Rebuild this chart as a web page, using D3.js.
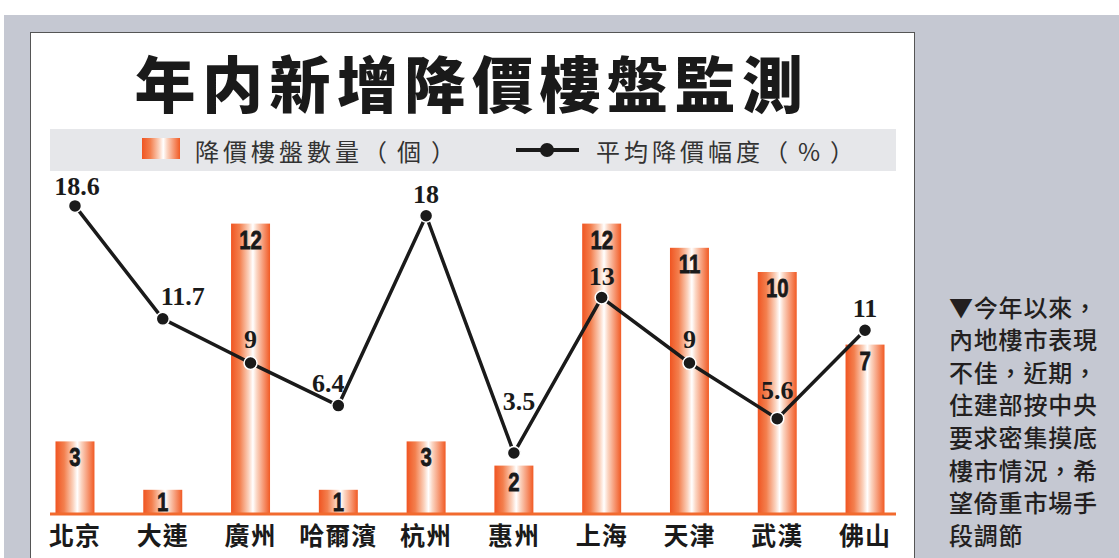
<!DOCTYPE html>
<html>
<head>
<meta charset="utf-8">
<script src="https://cdn.jsdelivr.net/npm/d3@7"></script>
<style>
  body { margin: 0; background: #fff; }
  svg { display: block; }
</style>
</head>
<body>
<div id="chart"></div>
<script>
var svgWidth = 1119;
var svgHeight = 558;

// data
var cities = ["北京", "大連", "廣州", "哈爾濱", "杭州", "惠州", "上海", "天津", "武漢", "佛山"];
var counts = [3, 1, 12, 1, 3, 2, 12, 11, 10, 7];
var cuts = [18.6, 11.7, 9, 6.4, 18, 3.5, 13, 9, 5.6, 11];
var noteLines = ["▼今年以來，", "內地樓市表現", "不佳，近期，", "住建部按中央", "要求密集摸底", "樓市情況，希", "望倚重市場手", "段調節"];

// label nudges for the line values (kept off the line where it crosses)
var cutLabelDx = [2, 20, 0, -10, 0, 5, 0, 0, 0, 0];
var cutLabelDy = [-11, -14, -15, -14, -13, -43, -13, -15, -20, -13];

var cjk = "'Noto Sans CJK TC', 'Noto Sans CJK SC', sans-serif";

var svg = d3.select("#chart")
  .append("svg")
  .attr("width", svgWidth)
  .attr("height", svgHeight);

// background + panel
svg.append("rect")
  .attr("x", 4).attr("y", 15)
  .attr("width", svgWidth - 4).attr("height", svgHeight - 15)
  .attr("fill", "#c5c8d2");

svg.append("rect")
  .attr("x", 30.5).attr("y", 32.5)
  .attr("width", 884).attr("height", 540)
  .attr("fill", "#fff")
  .attr("stroke", "#555")
  .attr("stroke-width", 1);

// bar gradient
var defs = svg.append("defs");
var grad = defs.append("linearGradient")
  .attr("id", "barGrad")
  .attr("x1", "0%").attr("x2", "100%")
  .attr("y1", "0%").attr("y2", "0%");
[["0%", "#f05522"], ["22%", "#f37f4e"], ["45%", "#fbd2bd"], ["56%", "#ffffff"], ["66%", "#fbd5c2"], ["100%", "#f15a24"]]
  .forEach(function(s) {
    grad.append("stop").attr("offset", s[0]).attr("stop-color", s[1]);
  });

// title
svg.append("text")
  .attr("x", 472)
  .attr("y", 81)
  .attr("text-anchor", "middle")
  .attr("dominant-baseline", "central")
  .attr("font-family", cjk)
  .attr("font-weight", 900)
  .attr("font-size", 61)
  .attr("letter-spacing", 6.5)
  .attr("fill", "#1a1a1a")
  .text("年内新增降價樓盤監測");

// legend band
svg.append("rect")
  .attr("x", 50).attr("y", 129)
  .attr("width", 846).attr("height", 42)
  .attr("fill", "#e6e7ea");

svg.append("rect")
  .attr("x", 142).attr("y", 138)
  .attr("width", 38).attr("height", 21)
  .attr("fill", "url(#barGrad)");

function legendText(x, name, unit) {
  var t = svg.append("text")
    .attr("x", x).attr("y", 150)
    .attr("dominant-baseline", "central")
    .attr("font-family", cjk)
    .attr("font-size", 24)
    .attr("letter-spacing", 4)
    .attr("fill", "#333");
  t.append("tspan").text(name);
  // the unit in brackets is set loose in the original
  t.append("tspan").attr("letter-spacing", 10).text(unit);
}

legendText(195, "降價樓盤數量", "（個）");

svg.append("line")
  .attr("x1", 516).attr("x2", 579)
  .attr("y1", 150).attr("y2", 150)
  .attr("stroke", "#1a1a1a")
  .attr("stroke-width", 4);
svg.append("circle")
  .attr("cx", 547).attr("cy", 150).attr("r", 7)
  .attr("fill", "#1a1a1a");

legendText(596, "平均降價幅度", "（%）");

// scales
var xBand = d3.scaleBand()
  .domain(cities)
  .range([31, 909])
  .paddingInner(0.556)
  .paddingOuter(0.279);

var yCount = d3.scaleLinear()
  .domain([0, 12])
  .range([514, 223.6]);

var yCut = d3.scaleLinear()
  .domain([0, 20])
  .range([510.3, 183]);

var cx = (d, i) => xBand(cities[i]) + xBand.bandwidth() / 2;

var chart = svg.append("g");

// bars
chart.selectAll("rect.bar")
  .data(counts)
  .enter()
  .append("rect")
  .attr("class", "bar")
  .attr("x", (d, i) => xBand(cities[i]))
  .attr("y", d => yCount(d))
  .attr("width", xBand.bandwidth())
  .attr("height", d => yCount(0) - yCount(d))
  .attr("fill", "url(#barGrad)");

// bar value labels, squeezed to look like a condensed black face
chart.selectAll("text.countText")
  .data(counts)
  .enter()
  .append("text")
  .attr("class", "countText")
  .attr("transform", (d, i) => `translate(${cx(d, i)}, ${Math.min(yCount(d) + 25, yCount(0) - 3)}) scale(0.78, 1)`)
  .attr("text-anchor", "middle")
  .attr("font-family", "'Liberation Sans', Arial, sans-serif")
  .attr("font-weight", "bold")
  .attr("font-size", 26)
  .attr("stroke", "#1a1a1a")
  .attr("stroke-width", 0.8)
  .attr("fill", "#1a1a1a")
  .text(d => d);

// baseline
chart.append("line")
  .attr("x1", 50).attr("x2", 896)
  .attr("y1", yCount(0)).attr("y2", yCount(0))
  .attr("stroke", "#f26a2e")
  .attr("stroke-width", 3);

// category axis
var bottomAxis = d3.axisBottom(xBand).tickSize(0).tickPadding(0);
var axisG = chart.append("g")
  .attr("transform", "translate(0, 545)")
  .call(bottomAxis);
axisG.select(".domain").remove();
axisG.selectAll("text")
  .attr("dy", 0)
  .attr("font-family", cjk)
  .attr("font-weight", 700)
  .attr("font-size", 25)
  .attr("letter-spacing", 1)
  .attr("fill", "#1a1a1a");

// line
var line = d3.line()
  .x(cx)
  .y(d => yCut(d));

chart.append("path")
  .datum(cuts)
  .attr("d", line)
  .attr("fill", "none")
  .attr("stroke", "#1a1a1a")
  .attr("stroke-width", 3.5)
  .attr("stroke-linejoin", "miter");

chart.selectAll("circle.dot")
  .data(cuts)
  .enter()
  .append("circle")
  .attr("class", "dot")
  .attr("cx", cx)
  .attr("cy", d => yCut(d))
  .attr("r", 6.5)
  .attr("fill", "#1a1a1a")
  .attr("stroke", "#fff")
  .attr("stroke-width", 1.5);

chart.selectAll("text.cutText")
  .data(cuts)
  .enter()
  .append("text")
  .attr("class", "cutText")
  .attr("x", (d, i) => cx(d, i) + cutLabelDx[i])
  .attr("y", (d, i) => yCut(d) + cutLabelDy[i])
  .attr("text-anchor", "middle")
  .attr("font-family", "'Liberation Serif', 'Times New Roman', serif")
  .attr("font-weight", "bold")
  .attr("font-size", 26)
  .attr("fill", "#1a1a1a")
  .text(d => d);

// side note
svg.selectAll("text.note")
  .data(noteLines)
  .enter()
  .append("text")
  .attr("class", "note")
  .attr("x", 949)
  .attr("y", (d, i) => 306 + i * 32.6)
  .attr("dominant-baseline", "central")
  .attr("font-family", cjk)
  .attr("font-weight", 500)
  .attr("font-size", 24)
  .attr("letter-spacing", 0.8)
  .attr("fill", "#231f20")
  .text(d => d);
</script>
</body>
</html>
